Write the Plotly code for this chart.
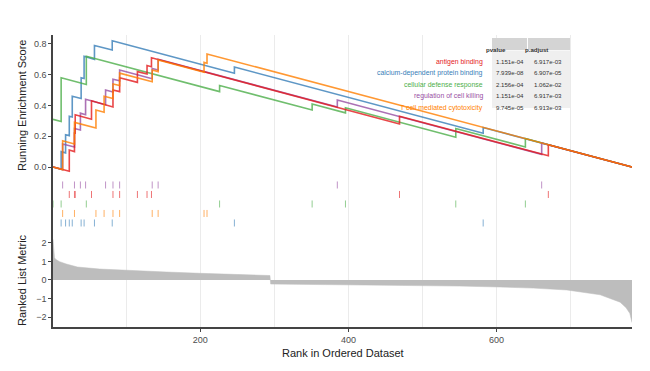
import plotly.graph_objects as go

# ---------------- data ----------------
N_GENES = 783

gene_sets = ["antigen binding", "calcium-dependent protein binding",
             "cellular defense response", "regulation of cell killing",
             "T cell mediated cytotoxicity"]
pvalues = ["1.151e-04", "7.939e-08", "2.156e-04", "1.151e-04", "9.745e-05"]
padjust = ["6.917e-03", "6.907e-05", "1.062e-02", "6.917e-03", "6.913e-03"]
colors = ["#E41A1C", "#377EB8", "#4DAF4A", "#984EA3", "#FF7F00"]

# running enrichment score vertices (rank, ES)
red_x = [1, 23, 23, 30, 30, 31, 31, 53, 53, 82, 82, 91, 91, 115, 115, 128, 128, 134, 134, 469, 469, 670, 670, 783]
red_y = [0, -0.028, 0.11, 0.10, 0.22, 0.22, 0.34, 0.31, 0.43, 0.39, 0.50, 0.49, 0.58, 0.55, 0.62, 0.605, 0.66, 0.652, 0.71, 0.28, 0.33, 0.073, 0.145, 0.0]
blue_x = [1, 12, 12, 18, 18, 23, 23, 27, 27, 39, 39, 43, 43, 57, 57, 81, 81, 246, 246, 582, 582, 783]
blue_y = [0, -0.014, 0.10, 0.092, 0.21, 0.204, 0.33, 0.325, 0.46, 0.445, 0.58, 0.575, 0.72, 0.70, 0.79, 0.76, 0.82, 0.61, 0.65, 0.22, 0.257, 0.0]
green_x = [1, 12, 12, 46, 46, 226, 226, 351, 351, 396, 396, 545, 545, 639, 639, 783]
green_y = [0.31, 0.296, 0.58, 0.536, 0.72, 0.49, 0.53, 0.37, 0.41, 0.352, 0.385, 0.194, 0.25, 0.13, 0.185, 0.0]
purple_x = [1, 14, 14, 30, 30, 38, 38, 45, 45, 72, 72, 82, 82, 91, 91, 135, 135, 143, 143, 385, 385, 661, 661, 783]
purple_y = [0, -0.017, 0.15, 0.13, 0.25, 0.24, 0.35, 0.34, 0.44, 0.405, 0.50, 0.487, 0.57, 0.56, 0.63, 0.574, 0.64, 0.63, 0.70, 0.39, 0.435, 0.082, 0.156, 0.0]
orange_x = [1, 14, 14, 30, 30, 59, 59, 70, 70, 82, 82, 91, 91, 135, 135, 143, 143, 205, 205, 209, 209, 783]
orange_y = [0, -0.017, 0.17, 0.15, 0.29, 0.253, 0.37, 0.356, 0.46, 0.445, 0.54, 0.53, 0.61, 0.554, 0.63, 0.62, 0.695, 0.616, 0.68, 0.675, 0.735, 0.0]

# hit positions (rug)
red_hits = [23, 30, 31, 53, 82, 91, 115, 128, 134, 469, 670]
blue_hits = [12, 18, 23, 27, 39, 43, 57, 81, 246, 582]
green_hits = [1, 12, 46, 226, 351, 396, 545, 639]
purple_hits = [14, 30, 38, 45, 72, 82, 91, 135, 143, 385, 661]
orange_hits = [14, 30, 59, 70, 82, 91, 135, 143, 205, 209]
rug_rows = [4, 1, 3, 5, 2]  # red, blue, green, purple, orange

# ranked list metric (rank, value)
metric_rank = [1, 2, 3, 5, 10, 19, 34, 64, 108, 154, 199, 250, 294, 295, 350, 450, 550, 604, 650, 695, 740, 767, 775, 780, 783]
metric_val = [2.2, 1.5, 1.2, 1.1, 0.99, 0.86, 0.70, 0.59, 0.50, 0.43, 0.36, 0.30, 0.24, -0.22, -0.24, -0.28, -0.33, -0.38, -0.44, -0.54, -0.8, -1.2, -1.5, -1.8, -2.3]

# ---------------- figure ----------------
fig = go.Figure()

curves = [(red_x, red_y), (blue_x, blue_y), (green_x, green_y), (purple_x, purple_y), (orange_x, orange_y)]
order = [1, 2, 3, 0, 4]
for i in order:
    cx, cy = curves[i]
    fig.add_trace(go.Scatter(x=cx, y=cy, mode="lines", xaxis="x3", yaxis="y3",
                             line=dict(color=colors[i], width=1.6), opacity=0.8,
                             showlegend=False, hoverinfo="skip"))

hits = [red_hits, blue_hits, green_hits, purple_hits, orange_hits]
for i in range(5):
    xs, ys = [], []
    r = rug_rows[i]
    for h in hits[i]:
        xs += [h, h, None]
        ys += [r - 0.37, r + 0.37, None]
    fig.add_trace(go.Scatter(x=xs, y=ys, mode="lines", xaxis="x2", yaxis="y2",
                             line=dict(color=colors[i], width=1), opacity=0.6,
                             showlegend=False, hoverinfo="skip"))

fig.add_trace(go.Scatter(x=metric_rank, y=metric_val, mode="lines", fill="tozeroy",
                         fillcolor="#bdbdbd", line=dict(color="#bdbdbd", width=0.5),
                         xaxis="x", yaxis="y", showlegend=False, hoverinfo="skip"))

tickfont = dict(family="Liberation Sans, Arial, sans-serif", size=9, color="#4d4d4d")
grid = dict(showgrid=True, gridcolor="#ebebeb", gridwidth=1, tick0=0, dtick=200,
            minor=dict(tick0=0, dtick=100, showgrid=True, gridcolor="#ebebeb", gridwidth=1))

# note: the page body has an 8px default margin, so margins are offset by 8px
fig.update_layout(
    width=650, height=371,
    margin=dict(l=45, r=26, t=27, b=52),
    paper_bgcolor="white", plot_bgcolor="white",
    xaxis=dict(domain=[0, 1], range=[1, 783], anchor="y", showline=True, linecolor="#444",
               linewidth=1.6, ticks="outside", ticklen=3, tickcolor="#444", tickfont=tickfont,
               zeroline=False, automargin=False, **grid),
    xaxis2=dict(domain=[0, 1], range=[1, 783], anchor="y2", matches="x", showticklabels=False,
                showline=False, zeroline=False, ticks="", automargin=False, **grid),
    xaxis3=dict(domain=[0, 1], range=[1, 783], anchor="y3", matches="x", showticklabels=False,
                showline=False, zeroline=False, ticks="", automargin=False, **grid),
    yaxis=dict(domain=[0, 0.3253], range=[-2.54, 2.59], tickvals=[-2, -1, 0, 1, 2],
               showline=True, linecolor="#444", linewidth=1.6, ticks="outside", ticklen=3,
               tickcolor="#444", tickfont=tickfont, showgrid=False, zeroline=False, automargin=False),
    yaxis2=dict(domain=[0.3253, 0.5137], range=[0.05, 5.84], showticklabels=False,
                showline=True, linecolor="#444", linewidth=1.6, ticks="", showgrid=False,
                zeroline=False, automargin=False),
    yaxis3=dict(domain=[0.5137, 1], range=[-0.065, 0.858], tickvals=[0, 0.2, 0.4, 0.6, 0.8],
                tickformat=".1f", showline=True, linecolor="#444", linewidth=1.6, ticks="outside",
                ticklen=3, tickcolor="#444", tickfont=tickfont, showgrid=False, zeroline=False,
                automargin=False),
)

titlefont = dict(family="Liberation Sans, Arial, sans-serif", size=11, color="#222")
ann = [
    dict(text="Running Enrichment Score", x=-0.0535, y=0.757, textangle=-90, font=titlefont),
    dict(text="Ranked List Metric", x=-0.0535, y=0.161, textangle=-90, font=titlefont),
    dict(text="Rank in Ordered Dataset", x=0.5, y=-0.089, font=titlefont),
]
for a in ann:
    fig.add_annotation(xref="paper", yref="paper", showarrow=False, xanchor="center",
                       yanchor="middle", **a)

# table
tfont = "Liberation Sans, Arial, sans-serif"
dsize = 6.9
vsize = 6.1
fig.add_shape(type="rect", xref="paper", yref="paper", x0=0.7582, x1=0.8929, y0=0.75, y1=0.9469,
              fillcolor="#efefef", line=dict(width=0), layer="above")
fig.add_shape(type="rect", xref="paper", yref="paper", x0=0.7582, x1=0.8187, y0=0.9486, y1=0.9897,
              fillcolor="#d4d4d4", line=dict(width=0), layer="above")
fig.add_shape(type="rect", xref="paper", yref="paper", x0=0.8204, x1=0.8929, y0=0.9486, y1=0.9897,
              fillcolor="#d4d4d4", line=dict(width=0), layer="above")
fig.add_annotation(text="<b>pvalue</b>", x=0.786, y=0.969, xref="paper", yref="paper",
                   showarrow=False, font=dict(family=tfont, size=vsize, color="#333"))
fig.add_annotation(text="<b>p.adjust</b>", x=0.8584, y=0.969, xref="paper", yref="paper",
                   showarrow=False, font=dict(family=tfont, size=vsize, color="#333"))
row_y = [0.928, 0.889, 0.849, 0.810, 0.771]
for i in range(5):
    fig.add_annotation(text=gene_sets[i], x=0.746, y=row_y[i], xref="paper", yref="paper",
                       xanchor="right", showarrow=False,
                       font=dict(family=tfont, size=dsize, color=colors[i]))
    fig.add_annotation(text=pvalues[i], x=0.7617, y=row_y[i], xref="paper", yref="paper",
                       xanchor="left", showarrow=False, font=dict(family=tfont, size=vsize, color="#333"))
    fig.add_annotation(text=padjust[i], x=0.8273, y=row_y[i], xref="paper", yref="paper",
                       xanchor="left", showarrow=False, font=dict(family=tfont, size=vsize, color="#333"))

fig.write_html("out.html")
